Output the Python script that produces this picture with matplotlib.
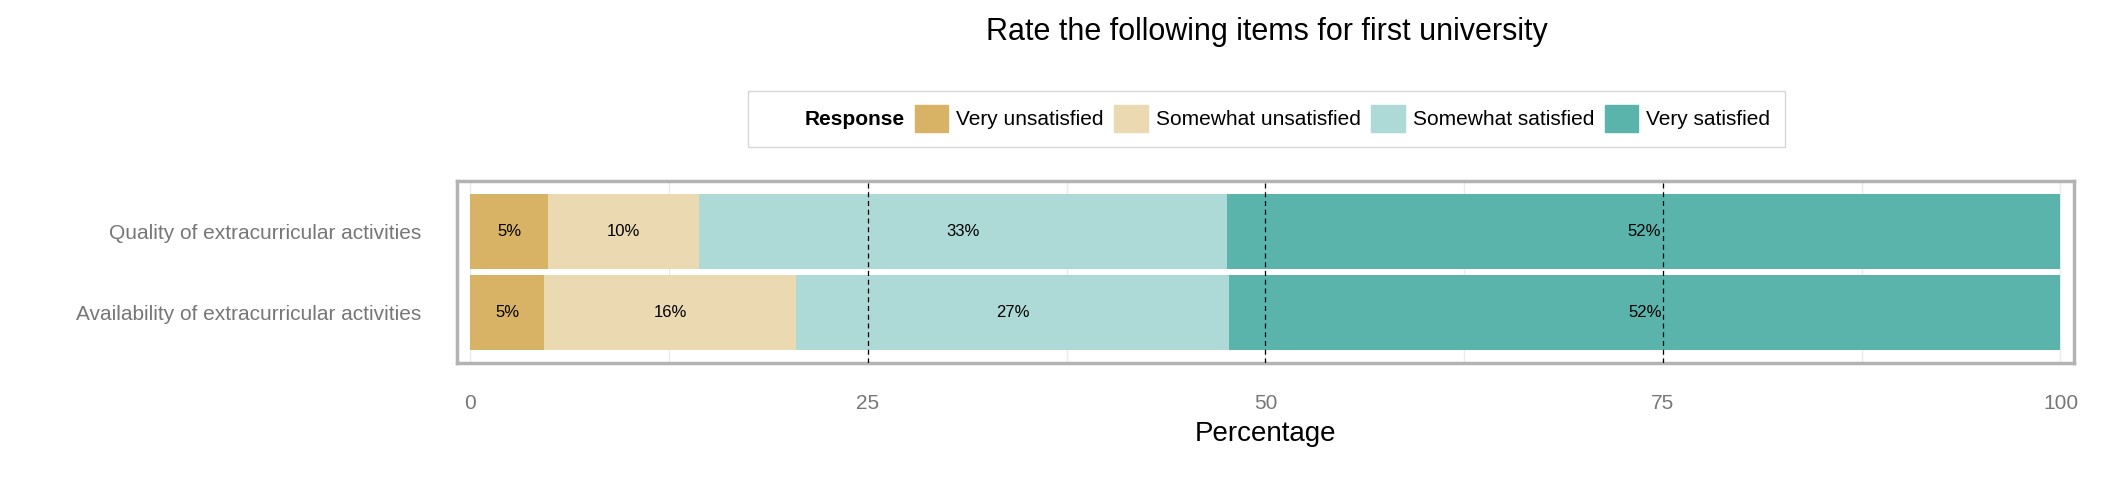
import matplotlib
matplotlib.use("Agg")
import matplotlib.pyplot as plt
from matplotlib.patches import Patch

plt.rcParams['font.family'] = ['Liberation Sans', 'DejaVu Sans']

items = ["Quality of extracurricular activities", "Availability of extracurricular activities"]
responses = ["Very unsatisfied", "Somewhat unsatisfied", "Somewhat satisfied", "Very satisfied"]
quality = [4.9, 9.5, 33.2, 52.4]
availability = [4.6, 15.9, 27.2, 52.3]
labels_q = ["5%", "10%", "33%", "52%"]
labels_a = ["5%", "16%", "27%", "52%"]
colors = ["#D8B365", "#EBD9B2", "#ADD9D6", "#5AB4AC"]

fig = plt.figure(figsize=(21.25, 4.84), dpi=100)
ax = fig.add_axes([0.215, 0.249, 0.761, 0.378])
ax.set_xlim(-0.85, 100.85)
ax.set_ylim(-0.62, 1.62)
for g in [0, 12.5, 25, 37.5, 50, 62.5, 75, 87.5, 100]:
    ax.axvline(g, color="#EBEBEB", lw=1, zorder=0)
rows = [(1, quality, labels_q), (0, availability, labels_a)]
for y, vals, labs in rows:
    left = 0
    for v, c, l in zip(vals, colors, labs):
        ax.barh(y, v, left=left, color=c, height=0.92, zorder=2)
        ax.text(left + v / 2, y, l, ha="center", va="center", fontsize=12, zorder=4)
        left += v
for d in [25, 50, 75]:
    ax.axvline(d, color="black", lw=0.9, ls=(0, (4, 3)), zorder=3)
ax.set_yticks([1, 0])
ax.set_yticklabels(items, fontsize=15, color="#777777")
ax.set_xticks([0, 25, 50, 75, 100])
ax.set_xticklabels(["0", "25", "50", "75", "100"], fontsize=15, color="#777777")
ax.tick_params(axis="x", length=0, pad=22)
ax.tick_params(axis="y", length=0, pad=26)
for s in ax.spines.values():
    s.set_color("#B3B3B3")
    s.set_linewidth(2.5)
ax.set_xlabel("Percentage", fontsize=20, labelpad=6)
fig.suptitle("Rate the following items for first university", fontsize=22, y=0.965, x=0.596)
handles = [Patch(color="none")] + [Patch(color=c) for c in colors]
leg = fig.legend(handles, ["Response"] + responses, loc="center", bbox_to_anchor=(0.596, 0.755), ncol=5,
                 fontsize=15, frameon=True, fancybox=False,
                 handlelength=1.6, handleheight=1.6, columnspacing=0.5, handletextpad=0.4,
                 borderpad=0.7)
leg.get_frame().set_edgecolor("#CCCCCC")
leg.get_texts()[0].set_fontweight("bold")
leg.legend_handles[0].set_visible(False)
fig.savefig("out.png", dpi=100)
